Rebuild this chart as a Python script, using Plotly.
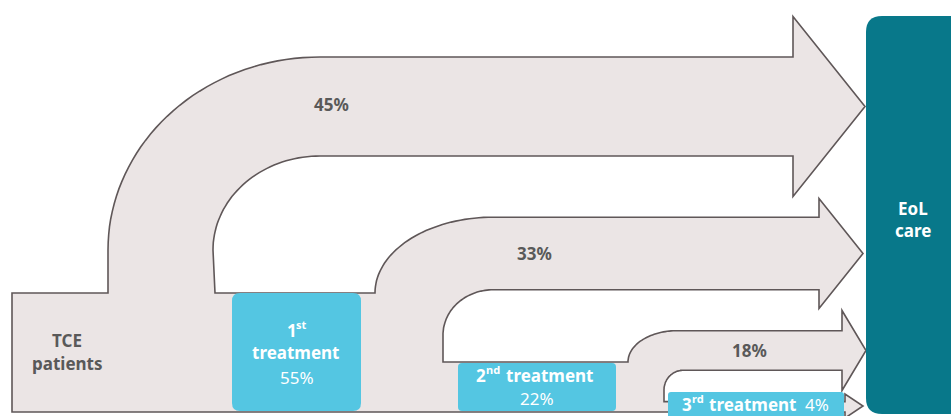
import numpy as np
import plotly.graph_objects as go

# Shares of TCE patients flowing directly to end-of-life care at each stage
flow_labels = ["45%", "33%", "18%", "4%"]
flow_values = [45, 33, 18, 4]
# Treatment lines and the share of patients entering each
stage_ordinals = [("1", "st"), ("2", "nd"), ("3", "rd")]
stage_values = [55, 22, 4]

W, H = 951, 416
PX_PER_PCT = 2.2          # thickness of a flow band per percentage point
band_centres = [106.5, 253.5, 350.5, 406]
head_base = [793, 819, 842, 845]
head_tip = [865, 863, 866, 863]
head_half = [90, 55, 40, 12]

FILL = "#ebe5e5"
EDGE = "#5f5758"
CYAN = "#54c6e2"
TEAL = "#08788a"
TXT = "#595959"


def arc(cx, cy, rx, ry, t0, t1, n=40):
    t = np.linspace(t0, t1, n)
    return list(zip(cx + rx * np.cos(t), cy - ry * np.sin(t)))


def band(i):
    c = band_centres[i]
    w = flow_values[i] * PX_PER_PCT
    return c - w / 2, c + w / 2


def head(i, top, bot):
    c = band_centres[i]
    return [(head_base[i], top), (head_base[i], c - head_half[i]),
            (head_tip[i], c), (head_base[i], c + head_half[i]), (head_base[i], bot)]


t1, b1 = band(0)
t2, b2 = band(1)
t3, b3 = band(2)
t4, b4 = band(3)

pts = [(12, 412), (12, 293), (108, 293), (108, 250)]
pts += arc(320, 250, 212, 250 - t1, np.pi, np.pi / 2)
pts += head(0, t1, b1)
pts += arc(320, 250, 107, 250 - b1, np.pi / 2, np.pi)
pts += [(215, 293)]
pts += arc(493, 293, 118, 293 - t2, np.pi, np.pi / 2)
pts += head(1, t2, b2)
pts += arc(493, 335, 50, 335 - b2, np.pi / 2, np.pi)
pts += [(443, 362)]
pts += arc(677, 362, 49, 362 - t3, np.pi, np.pi / 2)
pts += head(2, t3, b3)
pts += arc(683, 390, 19, 390 - b3, np.pi / 2, np.pi)
pts += [(664, t4)]
pts += head(3, t4, 412)

flow_path = "M " + " L ".join(f"{x:.1f},{y:.1f}" for x, y in pts) + " Z"


def rrect(x0, y0, x1, y1, r):
    return (f"M {x0+r},{y0} L {x1-r},{y0} Q {x1},{y0} {x1},{y0+r} "
            f"L {x1},{y1-r} Q {x1},{y1} {x1-r},{y1} L {x0+r},{y1} "
            f"Q {x0},{y1} {x0},{y1-r} L {x0},{y0+r} Q {x0},{y0} {x0+r},{y0} Z")


fig = go.Figure()
fig.add_trace(go.Scatter(x=[0, W], y=[0, H], mode="markers",
                         marker=dict(opacity=0), hoverinfo="skip", showlegend=False))

shapes = [
    dict(type="path", path=flow_path, fillcolor=FILL,
         line=dict(color=EDGE, width=1.6), layer="below"),
    dict(type="path", path=rrect(232, 293, 361, 411, 8), fillcolor=CYAN, line=dict(width=0)),
    dict(type="path", path=rrect(458, 363, 616, 411, 4), fillcolor=CYAN, line=dict(width=0)),
    dict(type="path", path=rrect(668, 392, 844, 430, 3), fillcolor=CYAN, line=dict(width=0)),
    dict(type="path", path=rrect(866, 16, 980, 414, 16), fillcolor=TEAL, line=dict(width=0)),
]

FONT = "Noto Sans"
ann = []


def label(x, y, text, color, size=17, bold=True, anchor="center"):
    ann.append(dict(x=x, y=y, text=text, showarrow=False, xanchor=anchor, yanchor="middle",
                    font=dict(family=FONT, size=size, color=color,
                              weight="bold" if bold else "normal")))


# flow percentages on the bands
label(331, 104, flow_labels[0], TXT)
label(534, 253, flow_labels[1], TXT)
label(749, 350, flow_labels[2], TXT)

# source
label(67, 340, "TCE", TXT)
label(67, 363, "patients", TXT)

# 1st treatment box
label(292, 330, stage_ordinals[0][0], "white")
label(294, 324, stage_ordinals[0][1], "white", size=11, anchor="left")
label(296, 352, "treatment", "white")
label(297, 377, f"{stage_values[0]}%", "white", bold=False)

# 2nd treatment box
label(481, 375, stage_ordinals[1][0], "white")
label(484, 369, stage_ordinals[1][1], "white", size=11, anchor="left")
label(550, 375, "treatment", "white")
label(537, 398, f"{stage_values[1]}%", "white", bold=False)

# 3rd treatment box
label(687, 404, stage_ordinals[2][0], "white")
label(690, 398, stage_ordinals[2][1], "white", size=11, anchor="left")
label(753, 404, "treatment", "white")
label(817, 404, f"{stage_values[2]}%", "white", bold=False)

# destination
label(913, 208, "EoL", "white")
label(913, 230, "care", "white")

fig.update_layout(
    width=W, height=H, margin=dict(l=0, r=0, t=0, b=0),
    paper_bgcolor="white", plot_bgcolor="white",
    xaxis=dict(range=[0, W], visible=False, fixedrange=True),
    yaxis=dict(range=[H, 0], visible=False, fixedrange=True),
    shapes=shapes, annotations=ann, showlegend=False,
)
fig.write_html("out.html", config={"displayModeBar": False})
